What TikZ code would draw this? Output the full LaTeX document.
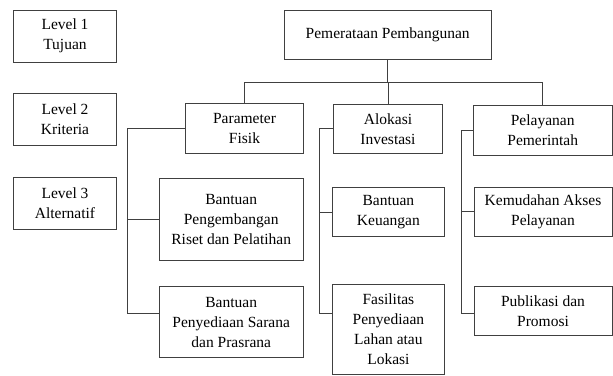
\documentclass[tikz,border=0pt]{standalone}
\usepackage{fontspec}
\setmainfont{Liberation Serif}
\tikzset{box/.style={draw=black!75, line width=0.9pt, align=center, inner sep=0pt,
   font=\fontsize{15.5}{20}\selectfont},
 link/.style={draw=black!75, line width=0.9pt},
 }

\begin{document}
\begin{tikzpicture}[x=1pt,y=-1pt]
        \useasboundingbox (0,0) rectangle (613,375);

        \node[box, minimum width=103pt, minimum height=52pt] (lvl1) at (65,36) {Level 1\\Tujuan};
        \node[box, minimum width=103pt, minimum height=52pt] (lvl2) at (65,119.2) {Level 2\\Kriteria};
        \node[box, minimum width=103pt, minimum height=52pt] (lvl3) at (65,203.2) {Level 3\\Alternatif};

        \node[box, minimum width=206.7pt, minimum height=49.3pt] (goal) at (387.7,34.7) {Pemerataan Pembangunan};

        \node[box, minimum width=117.6pt, minimum height=50pt] (param) at (244.5,128.5) {Parameter\\Fisik};
        \node[box, minimum width=109.4pt, minimum height=49.3pt] (alokasi) at (388,128.7) {Alokasi\\Investasi};
        \node[box, minimum width=138.7pt, minimum height=49.8pt] (pelayanan) at (542.7,130.4) {Pelayanan\\Pemerintah};

        \node[box, minimum width=144.3pt, minimum height=82.4pt] (riset) at (231.2,219.5) {Bantuan\\Pengembangan\\Riset dan Pelatihan};
        \node[box, minimum width=144.3pt, minimum height=71pt] (sarana) at (231.2,322.2) {Bantuan\\Penyediaan Sarana\\dan Prasrana};
        \node[box, minimum width=111.3pt, minimum height=49pt] (keuangan) at (388.4,212.2) {Bantuan\\Keuangan};
        \node[box, minimum width=111.3pt, minimum height=90pt] (lahan) at (388.4,329.3) {Fasilitas\\Penyediaan\\Lahan atau\\Lokasi};
        \node[box, minimum width=138pt, minimum height=48.8pt] (akses) at (543,211.9) {Kemudahan Akses\\Pelayanan};
        \node[box, minimum width=138pt, minimum height=49pt] (promosi) at (543,311.2) {Publikasi dan\\Promosi};

        \coordinate (bar) at (0,82.5);
        \coordinate (low) at (0,313.5);
        \coordinate (trunkA) at (127.7,0);
        \coordinate (trunkB) at (319,0);
        \coordinate (trunkC) at (461.7,0);

        \draw[link] (goal.south) -- (goal.south |- bar);
        \draw[link] (param.north) |- (bar -| pelayanan.north) -- (pelayanan.north);
        \draw[link] (alokasi.north) -- (alokasi.north |- bar);

        \draw[link] (param.west) -| (trunkA |- low) -- (low -| sarana.west);
        \draw[link] (trunkA |- riset.west) -- (riset.west);

        \draw[link] (alokasi.west) -| (trunkB |- low) -- (low -| lahan.west);
        \draw[link] (trunkB |- keuangan.west) -- (keuangan.west);

        \draw[link] (pelayanan.west) -| (trunkC |- low) -- (low -| promosi.west);
        \draw[link] (trunkC |- akses.west) -- (akses.west);
    \end{tikzpicture}
\end{document}
